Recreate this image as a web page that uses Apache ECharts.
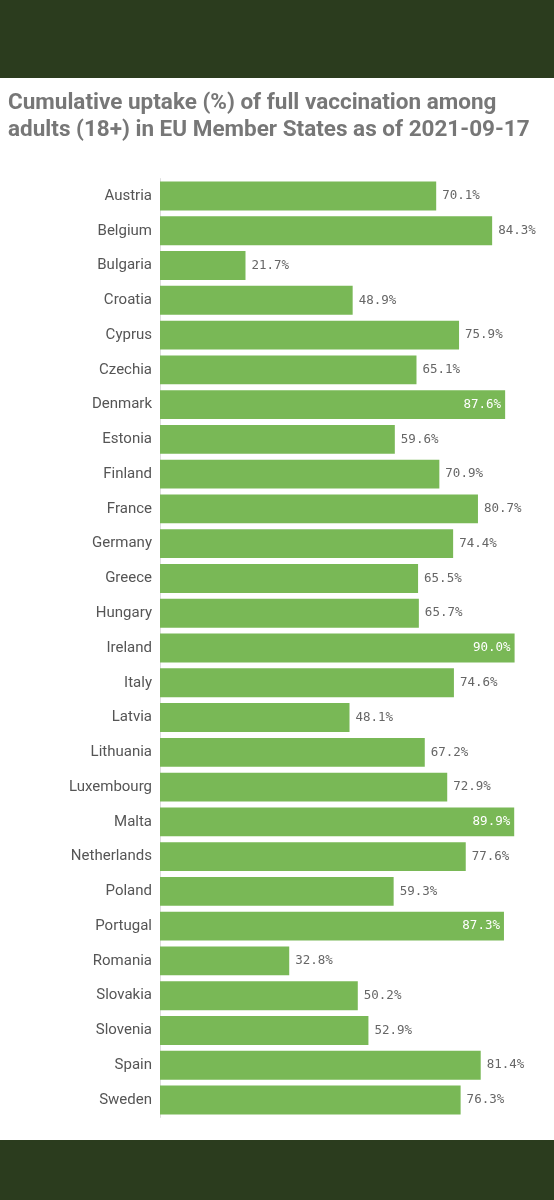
<!DOCTYPE html>
<html><head><meta charset="utf-8">
<script src="https://cdn.jsdelivr.net/npm/echarts@6/dist/echarts.min.js"></script>
<style>
html,body{margin:0;padding:0;width:554px;height:1200px;background:#fff;overflow:hidden;font-family:Roboto,sans-serif}
#top{position:absolute;left:0;top:0;width:554px;height:78px;background:#2b3c1e}
#bot{position:absolute;left:0;top:1140px;width:554px;height:60px;background:#2b3c1e}
#title{position:absolute;left:8px;top:88px;width:546px;font:bold 22.5px/27px Roboto,sans-serif;color:#777}
#chart{position:absolute;left:0;top:0;width:554px;height:1200px}
</style></head><body>
<div id="top"></div><div id="bot"></div>
<div id="chart"></div>
<div id="title">Cumulative uptake (%) of full vaccination among adults (18+) in EU Member States as of 2021-09-17</div>
<script>
const countries=["Austria","Belgium","Bulgaria","Croatia","Cyprus","Czechia","Denmark","Estonia","Finland","France","Germany","Greece","Hungary","Ireland","Italy","Latvia","Lithuania","Luxembourg","Malta","Netherlands","Poland","Portugal","Romania","Slovakia","Slovenia","Spain","Sweden"];
const uptake=[70.1,84.3,21.7,48.9,75.9,65.1,87.6,59.6,70.9,80.7,74.4,65.5,65.7,90.0,74.6,48.1,67.2,72.9,89.9,77.6,59.3,87.3,32.8,50.2,52.9,81.4,76.3];
const chart=echarts.init(document.getElementById('chart'));
chart.setOption({
  animation:false,
  grid:{left:160,top:178.6,width:400,height:938.8},
  xAxis:{type:'value',min:0,max:100,show:false},
  yAxis:{type:'category',data:countries,inverse:true,
    axisLine:{show:true,lineStyle:{color:'#ddd'}},axisTick:{show:false},
    axisLabel:{color:'#555',fontSize:15,fontFamily:'Roboto',margin:8}},
  series:[{type:'bar',barCategoryGap:'17%',
    itemStyle:{color:'#79b856'},
    data:uptake.map(v=>{
      const inside=v>=87;
      return {value:v,label:{show:true,position:inside?'insideRight':'right',
        color:inside?'#fff':'#666',distance:inside?4:6,
        fontFamily:'DejaVu Sans Mono',fontSize:12.5,
        formatter:p=>p.value.toFixed(1)+'%'}};
    })
  }]
});
</script></body></html>
